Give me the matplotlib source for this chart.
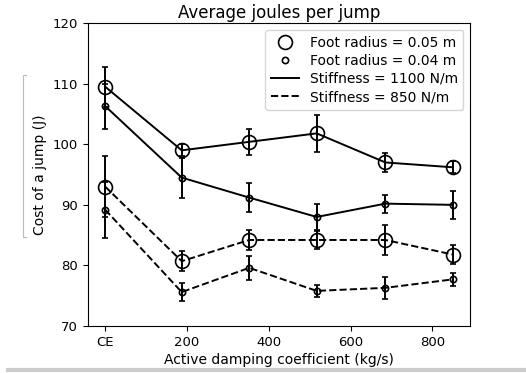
import matplotlib.pyplot as plt
from matplotlib.lines import Line2D

damping = [0, 187, 352, 517, 685, 850]
tick_pos = [0, 200, 400, 600, 800]
tick_lab = ['CE', '200', '400', '600', '800']

# foot radius 0.05 m
big_1100 = [109.5, 99.0, 100.4, 101.8, 97.0, 96.2]
big_1100_err = [3.3, 1.0, 2.1, 3.1, 1.5, 1.0]
big_850 = [93.0, 80.7, 84.2, 84.2, 84.2, 81.8]
big_850_err = [5.0, 1.7, 1.7, 1.5, 2.5, 1.5]

# foot radius 0.04 m
small_1100 = [106.3, 94.5, 91.2, 88.0, 90.2, 90.0]
small_1100_err = [3.7, 3.3, 2.4, 2.1, 1.5, 2.3]
small_850 = [89.2, 75.6, 79.6, 75.8, 76.3, 77.7]
small_850_err = [4.6, 1.5, 2.0, 1.0, 1.8, 1.1]

fig = plt.figure(figsize=(5.26, 3.73), dpi=100)
ax = fig.add_axes([0.167, 0.126, 0.727, 0.812])

series = [
    (big_1100, big_1100_err, '-', 10),
    (small_1100, small_1100_err, '-', 4.5),
    (big_850, big_850_err, '--', 10),
    (small_850, small_850_err, '--', 4.5),
]
for vals, errs, ls, ms in series:
    ax.errorbar(damping, vals, yerr=errs, color='black', linestyle=ls, lw=1.4,
                marker='o', ms=ms, mfc='none', mec='black', mew=1.2,
                elinewidth=1.4, capsize=2, capthick=1.4)

ax.set_ylim(70, 120)
ax.set_xticks(tick_pos)
ax.set_xticklabels(tick_lab)
ax.tick_params(labelsize=9.5)
ax.set_xlabel('Active damping coefficient (kg/s)', fontsize=10, labelpad=3)
ax.set_ylabel('Cost of a jump (J)', fontsize=10)
ax.set_title('Average joules per jump', fontsize=12, pad=4)

handles = [
    Line2D([], [], ls='none', marker='o', ms=10, mfc='none', mec='black', mew=1.2),
    Line2D([], [], ls='none', marker='o', ms=4.5, mfc='none', mec='black', mew=1.2),
    Line2D([], [], ls='-', color='black', lw=1.4),
    Line2D([], [], ls='--', color='black', lw=1.4),
]
labels = ['Foot radius = 0.05 m', 'Foot radius = 0.04 m',
          'Stiffness = 1100 N/m', 'Stiffness = 850 N/m']
ax.legend(handles, labels, loc='upper right', fontsize=10, handlelength=2,
          labelspacing=0.3, borderpad=0.4)

# screenshot artefacts: bracket at the left, rule at the bottom
fig.add_artist(Line2D([0.05, 0.044, 0.044, 0.05],
                      [1 - 75 / 373, 1 - 75 / 373, 1 - 237 / 373, 1 - 237 / 373],
                      color='#bbbbbb', lw=0.8))
fig.add_artist(Line2D([0.015, 1.0], [1 - 370 / 373, 1 - 370 / 373],
                      color='#cccccc', lw=3))

fig.savefig('out.png', dpi=100)
